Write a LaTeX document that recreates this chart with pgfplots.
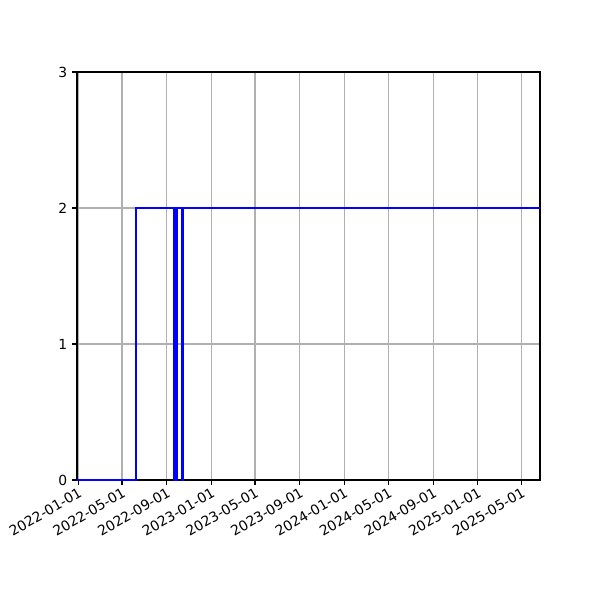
\documentclass[border=0pt]{standalone}
\usepackage{fontspec}
\setmainfont{DejaVu Sans}
\usepackage{pgfplots}
\pgfplotsset{compat=1.18}

% day 0 = 2022-01-01
\begin{document}
\begin{tikzpicture}[x=1pt,y=1pt]
\path[use as bounding box] (0,0) rectangle (432,432);
\begin{axis}[
	at={(55.44pt,86.4pt)}, anchor=south west,
	scale only axis,
	width=333.36pt, height=293.76pt,
	xmin=-3.5, xmax=1267,
	ymin=0, ymax=3,
	ytick={0,1,2,3},
	xtick={0,120,243,365,485,608,730,851,974,1096,1216},
	xticklabels={2022-01-01,2022-05-01,2022-09-01,2023-01-01,2023-05-01,2023-09-01,2024-01-01,2024-05-01,2024-09-01,2025-01-01,2025-05-01},
	xticklabel style={rotate=30, anchor=north east, font=\fontsize{10}{12}\selectfont, inner sep=1pt},
	yticklabel style={font=\fontsize{10}{12}\selectfont},
	/pgf/number format/assume math mode=true,
	tick align=outside,
	xtick pos=bottom, ytick pos=left,
	major tick length=3.5pt,
	tick style={black, line width=0.8pt},
	axis line style={black, line width=0.8pt},
	grid=major,
	grid style={color=black!31, line width=0.8pt},
	axis on top=false,
]
\addplot[const plot, color=blue, line width=1.5pt] coordinates {
(-4,0) (157.8,2) (261.5,0) (263,2) (264,0) (265.5,2) (266.5,0) (268,2)
(269,0) (270,2) (285.5,0) (288,2) (1270,2)
};
\end{axis}
\end{tikzpicture}
\end{document}
